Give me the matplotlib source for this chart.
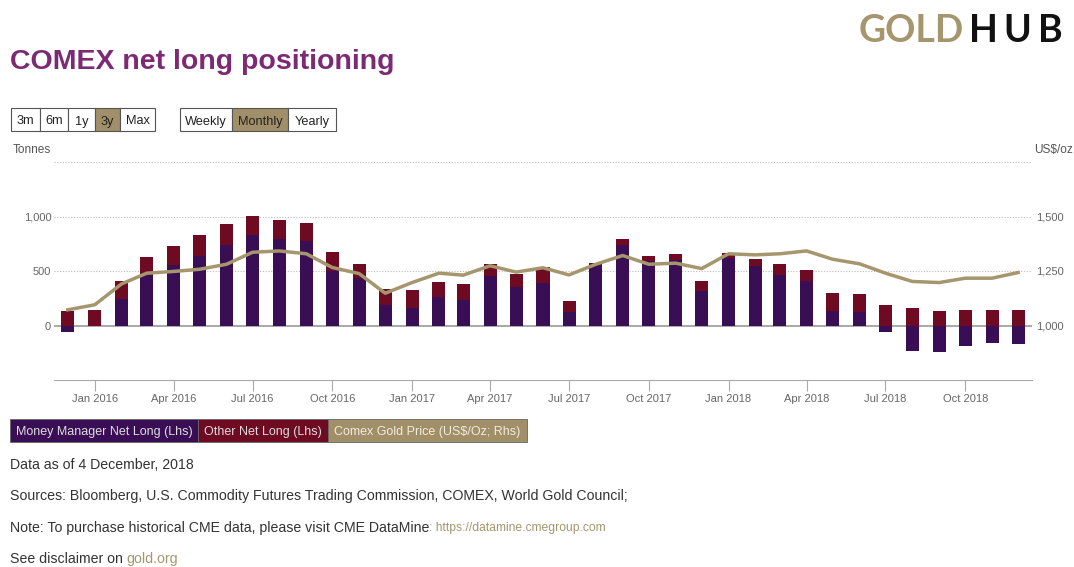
import numpy as np
import pandas as pd
import matplotlib
matplotlib.use('Agg')
import matplotlib.pyplot as plt
import matplotlib.dates as mdates
from matplotlib.patches import Rectangle

plt.rcParams['font.family'] = ['Liberation Sans', 'DejaVu Sans']

# Aylik veriler (Ara 2015 - Ara 2018)
months = pd.date_range('2015-12-01', '2018-12-01', freq='MS')
money_manager = [-64, 0, 242, 466, 558, 635, 742, 834, 794, 779,
                 503, 436, 184, 160, 261, 233, 457, 350, 387, 120,
                 564, 742, 590, 604, 313, 620, 543, 466, 405, 129,
                 120, -61, -233, -242, -187, -160, -169]
other_long = [129, 144, 169, 166, 169, 193, 187, 175, 175, 160,
              175, 131, 153, 162, 141, 144, 110, 122, 150, 101,
              13, 49, 48, 52, 98, 46, 67, 95, 101, 165,
              165, 184, 156, 129, 141, 141, 141]
gold_price = [1072, 1095, 1191, 1240, 1248, 1258, 1281, 1336, 1342, 1329,
              1266, 1238, 1148, 1197, 1240, 1231, 1274, 1245, 1265, 1232,
              1281, 1321, 1281, 1286, 1261, 1329, 1324, 1329, 1342, 1304,
              1283, 1240, 1202, 1197, 1217, 1217, 1243]

left_ticks = [0, 500, 1000]
left_labels = ['0', '500', '1,000']
right_ticks = [1000, 1250, 1500]
right_labels = ['1,000', '1,250', '1,500']

range_buttons = ['3m', '6m', '1y', '3y', 'Max']
freq_buttons = ['Weekly', 'Monthly', 'Yearly']
legend_labels = ['Money Manager Net Long (Lhs)', 'Other Net Long (Lhs)',
                 'Comex Gold Price (US$/Oz; Rhs)']

PURPLE = '#3a0e55'
RED = '#6e0a22'
GOLD = '#a5966d'
GOLD_BTN = '#a08f68'
W, H = 1074, 567


def spaced(ov, x, y, word, color, gap):
    # harfleri tek tek, aralikli yaz
    t = ov.text(x, y, word[0], fontsize=27, fontweight='bold', color=color,
                family='Lato', va='center', ha='left')
    for ch in word[1:]:
        t = ov.annotate(ch, xy=(1, 0.5), xycoords=t, xytext=(gap, 0),
                        textcoords='offset pixels', fontsize=27, fontweight='bold',
                        color=color, family='Lato', va='center', ha='left')


def main():
    fig = plt.figure(figsize=(W / 100, H / 100), dpi=100)

    # ust katman: piksel koordinatlari
    ov = fig.add_axes([0, 0, 1, 1], zorder=0)
    ov.set_xlim(0, W)
    ov.set_ylim(H, 0)
    ov.axis('off')

    ax = fig.add_axes([54 / W, 1 - 380 / H, (1032 - 54) / W, (380 - 162) / H], zorder=2)
    ax.patch.set_alpha(0)
    ax2 = ax.twinx()

    mm = np.array(money_manager)
    ot = np.array(other_long)
    ax.bar(months, mm, width=15, color=PURPLE, zorder=3)
    ax.bar(months, ot, bottom=np.maximum(mm, 0), width=15, color=RED, zorder=3)
    ax2.plot(months, gold_price, color=GOLD, lw=2.5, zorder=4, solid_joinstyle='round')

    ax.set_ylim(-500, 1500)
    ax2.set_ylim(750, 1750)
    ax.set_xlim(pd.Timestamp('2015-11-15'), pd.Timestamp('2018-12-17'))

    for v in [500, 1000, 1500]:
        ax.axhline(v, color='#bbbbbb', lw=0.8, ls=(0, (1, 1.5)), zorder=1)
    ax.axhline(0, color='#999999', lw=1.2, zorder=2)

    for a in (ax, ax2):
        for s in ['top', 'left', 'right']:
            a.spines[s].set_visible(False)
    ax2.spines['bottom'].set_visible(False)
    ax.spines['bottom'].set_color('#aaaaaa')

    ax.set_yticks(left_ticks)
    ax.set_yticklabels(left_labels)
    ax2.set_yticks(right_ticks)
    ax2.set_yticklabels(right_labels)
    ax.tick_params(axis='y', length=0, pad=2, labelsize=8, labelcolor='#666666')
    ax2.tick_params(axis='y', length=0, pad=3, labelsize=8, labelcolor='#666666')

    ax.xaxis.set_major_locator(mdates.MonthLocator(bymonth=[1, 4, 7, 10]))
    ax.xaxis.set_major_formatter(mdates.DateFormatter('%b %Y'))
    ax.tick_params(axis='x', length=8, width=0.8, color='#aaaaaa', pad=2,
                   labelsize=8, labelcolor='#666666')

    # basliklar ve eksen birimleri
    ov.text(10, 62, 'COMEX net long positioning', fontsize=20.5, fontweight='bold',
            color='#7d2a74', va='center', ha='left')
    ov.text(964, 31, 'GOLD', fontsize=27, fontweight='bold', color=GOLD,
            family='Lato', va='center', ha='right')
    spaced(ov, 969, 31, 'HUB', '#111111', 6)
    ov.text(13, 150, 'Tonnes', fontsize=8.6, color='#555555', va='center')
    ov.text(1073, 150, 'US$/oz', fontsize=8.6, color='#555555', va='center', ha='right')

    # dugmeler
    def buttons(edges, labels, active):
        for i, lab in enumerate(labels):
            x0, x1 = edges[i], edges[i + 1]
            fc = GOLD_BTN if lab == active else 'white'
            ov.add_patch(Rectangle((x0, 108), x1 - x0, 23, fc=fc, ec='#555555', lw=0.8))
            ov.text((x0 + x1) / 2, 120, lab, fontsize=9.2, color='#222222',
                    ha='center', va='center_baseline')
    buttons([11, 40, 68, 95, 120, 155], range_buttons, '3y')
    buttons([180, 232, 288, 336], freq_buttons, 'Monthly')

    # lejant
    leg_edges = [10, 198, 328, 527]
    leg_colors = [PURPLE, RED, GOLD_BTN]
    leg_text = ['#dddddd', '#dddddd', '#f3ecdc']
    for i, lab in enumerate(legend_labels):
        x0, x1 = leg_edges[i], leg_edges[i + 1]
        ov.add_patch(Rectangle((x0, 419), x1 - x0, 23, fc=leg_colors[i], ec='#666666', lw=0.6))
        ov.text(x0 + 6, 431, lab, fontsize=9.0, color=leg_text[i], va='center_baseline', ha='left')

    # dipnotlar
    fs = 10.2
    ov.text(10, 465, 'Data as of 4 December, 2018', fontsize=fs, color='#333333', va='center')
    ov.text(10, 496, 'Sources: Bloomberg, U.S. Commodity Futures Trading Commission, '
            'COMEX, World Gold Council;', fontsize=fs, color='#333333', va='center')
    t = ov.text(10, 528, 'Note: To purchase historical CME data, please visit CME DataMine',
                fontsize=fs, color='#333333', va='center')
    ov.annotate(': https://datamine.cmegroup.com', xy=(1, 0.5), xycoords=t,
                fontsize=8.7, color=GOLD, va='center')
    t = ov.text(10, 559, 'See disclaimer on ', fontsize=fs, color='#333333', va='center')
    ov.annotate('gold.org', xy=(1, 0.5), xycoords=t, fontsize=fs, color=GOLD, va='center')

    fig.savefig('out.png', dpi=100, facecolor='white')


if __name__ == "__main__":
    main()
